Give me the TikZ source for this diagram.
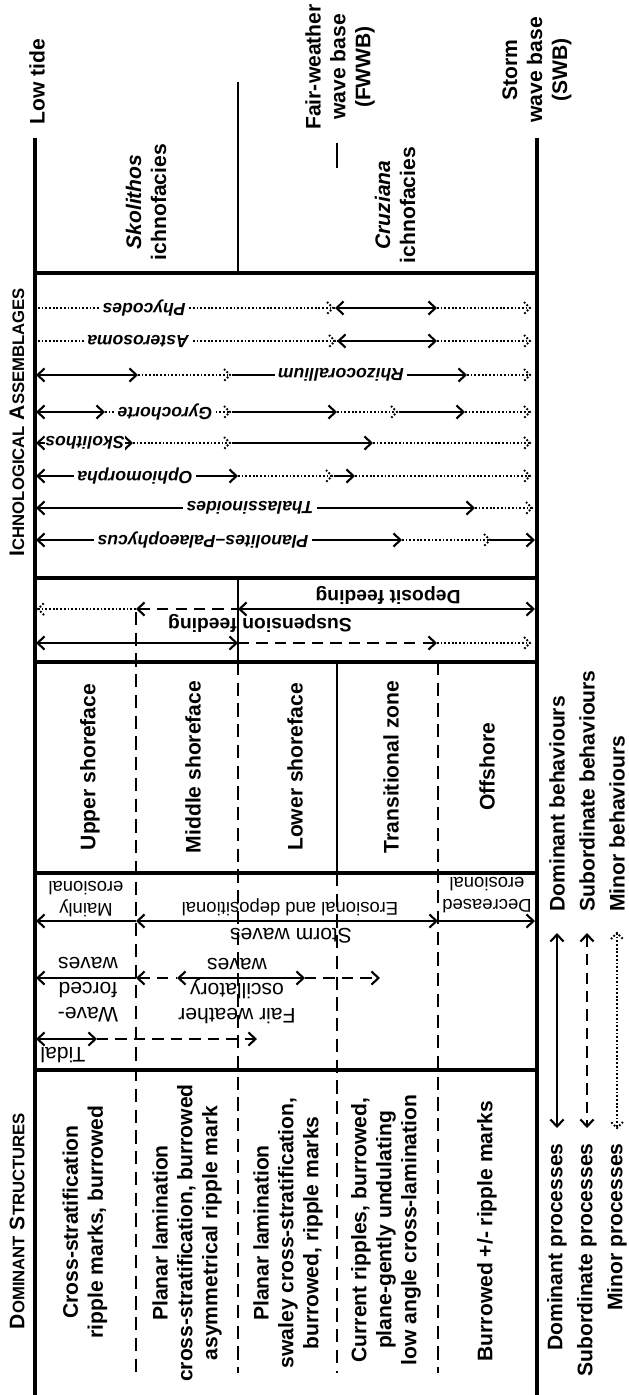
\documentclass[tikz,border=0pt]{standalone}
\usepackage{fontspec}
\setmainfont{Liberation Sans}
\usetikzlibrary{arrows.meta}
\newcommand{\hdcaps}[2]{{\fontsize{12}{14}\selectfont #1}{\fontsize{9.5}{14}\selectfont #2}}

\begin{document}
\begin{tikzpicture}[
                x=0.2mm,
                y=-0.2mm,
                >={Straight Barb[length=4pt,width=7.5pt]},
                frame/.style={line width=1.9pt},
                sep/.style={line width=1pt},
                sepdash/.style={line width=1pt, dash pattern=on 7.5pt off 4.3pt},
                dom/.style={line width=1.2pt},
                sub/.style={line width=1.2pt, dash pattern=on 6.5pt off 4pt},
                minor/.style={line width=1.1pt, dash pattern=on 1pt off 1.1pt},
                mtip/.pic={\draw[minor] (-6,-6) -- (0,0) -- (-6,6);},
                head/.style={font=\fontsize{12}{14.2}\selectfont\bfseries, align=center, inner sep=0pt},
                proc/.style={font=\fontsize{12}{14.2}\selectfont, align=center, inner sep=0pt},
                note/.style={font=\fontsize{10.5}{12.5}\selectfont, align=center, inner sep=0pt},
                feed/.style={font=\fontsize{11}{13}\selectfont\bfseries, inner sep=0pt},
                taxon/.style={font=\fontsize{10}{12}\selectfont\bfseries\itshape, fill=white,
                    inner xsep=2pt, inner ysep=1pt, rotate=180}]
            \fill[white] (0,0) rectangle (628,1395);
            \useasboundingbox (0,0) rectangle (628,1395);

            \draw[frame] (35,138) -- (35,1395);
            \draw[frame] (537,138) -- (537,1395);
            \foreach \yy in {273,578,662,873,1070}
                \draw[frame] (35,\yy) -- (537,\yy);
            \draw[sep] (238,82) -- (238,273);
            \draw[sep] (337,143) -- (337,168);
            \draw[sep] (238,578) -- (238,662);
            \draw[sep] (337,662) -- (337,873);
            \draw[sepdash] (136,612) -- (136,1373);
            \draw[sepdash] (238,662) -- (238,1373);
            \draw[sepdash] (337,873) -- (337,1373);
            \draw[sepdash] (438,662) -- (438,1373);

            \node[head, rotate=90] (lowtide) at (37,82)  {Low tide};
            \node[head, rotate=90] (skolfac) at (146,202) {\textit{Skolithos}\\ichnofacies};
            \node[head, rotate=90] (fwwb)    at (340,67)  {Fair-weather\\wave base\\(FWWB)};
            \node[head, rotate=90] (cruzfac) at (395,205) {\textit{Cruziana}\\ichnofacies};
            \node[head, rotate=90] (swb)     at (537,70)  {Storm\\wave base\\(SWB)};

            \node[head, rotate=90] (ichhead) at (17,422)
                {\hdcaps{I}{CHNOLOGICAL} \hdcaps{A}{SSEMBLAGES}};
            \node[head, rotate=90] (strhead) at (17,1221)
                {\hdcaps{D}{OMINANT} \hdcaps{S}{TRUCTURES}};

            \draw[minor] (38,308) -- (335,308);
            \pic at (333,308) {mtip};
            \draw[dom,<->] (335,308) -- (437,308);
            \draw[minor] (437,308) -- (530,308);
            \pic at (530,308) {mtip};
            \node[taxon] (phyc) at (144,308) {Phycodes};

            \draw[minor] (38,341) -- (337,341);
            \pic at (335,341) {mtip};
            \draw[dom,<->] (337,341) -- (437,341);
            \draw[minor] (437,341) -- (530,341);
            \pic at (530,341) {mtip};
            \node[taxon] (aster) at (138,341) {Asterosoma};

            \draw[dom,<->] (36,375) -- (138,375);
            \draw[minor] (138,375) -- (230,375);
            \pic at (230,375) {mtip};
            \draw[dom,->] (232,375) -- (467,375);
            \draw[minor] (467,375) -- (530,375);
            \pic at (530,375) {mtip};
            \node[taxon] (rhizo) at (341,375) {Rhizocorallium};

            \draw[dom,<->] (36,412) -- (105,412);
            \draw[minor] (105,412) -- (230,412);
            \pic at (230,412) {mtip};
            \draw[dom,->] (232,412) -- (337,412);
            \draw[minor] (337,412) -- (397,412);
            \pic at (397,412) {mtip};
            \draw[dom,->] (399,412) -- (465,412);
            \draw[minor] (465,412) -- (530,412);
            \pic at (530,412) {mtip};
            \node[taxon] (gyro) at (165,412) {Gyrochorte};

            \draw[dom,<->] (36,443) -- (133,443);
            \draw[minor] (133,443) -- (230,443);
            \pic at (230,443) {mtip};
            \draw[dom,->] (232,443) -- (373,443);
            \draw[minor] (373,443) -- (530,443);
            \pic at (530,443) {mtip};
            \node[taxon, inner xsep=0.5pt] (skol) at (85,443) {Skolithos};

            \draw[dom,<->] (36,476) -- (238,476);
            \draw[minor] (238,476) -- (332,476);
            \pic at (332,476) {mtip};
            \draw[dom,->] (334,476) -- (355,476);
            \draw[minor] (355,476) -- (530,476);
            \pic at (530,476) {mtip};
            \node[taxon] (ophio) at (135,476) {Ophiomorpha};

            \draw[dom,<->] (36,508) -- (475,508);
            \draw[minor] (475,508) -- (532,508);
            \pic at (532,508) {mtip};
            \node[taxon] (thala) at (250,508) {Thalassinoides};

            \draw[dom,<->] (36,540) -- (402,540);
            \draw[minor] (402,540) -- (490,540);
            \pic at (490,540) {mtip};
            \draw[dom,->] (490,540) -- (535,540);
            \node[taxon] (plano) at (203,540) {Planolites--Palaeophycus};

            \node[feed, rotate=180] (depfeed) at (388,595) {Deposit feeding};
            \draw[minor] (38,609) -- (136,609);
            \pic[rotate=180] at (38,609) {mtip};
            \draw[sub,<-] (136,609) -- (238,609);
            \draw[dom,<->] (238,609) -- (535,609);
            \node[feed, rotate=180] (susfeed) at (260,623) {Suspension feeding};
            \draw[dom,<->] (36,643) -- (238,643);
            \draw[sub,->] (238,643) -- (437,643);
            \draw[minor] (437,643) -- (530,643);
            \pic at (530,643) {mtip};

            \node[head, rotate=90] (upper)  at (90,767)  {Upper shoreface};
            \node[head, rotate=90] (middle) at (193,767) {Middle shoreface};
            \node[head, rotate=90] (lower)  at (295,767) {Lower shoreface};
            \node[head, rotate=90] (trans)  at (391,767) {Transitional zone};
            \node[head, rotate=90] (offsh)  at (487,767) {Offshore};

            \node[note, rotate=180] (mainly) at (86,899)  {Mainly\\erosional};
            \node[note, rotate=180] (erodep) at (290,907) {Erosional and depositional};
            \node[note, rotate=180] (decr)   at (487,895) {Decreased\\erosional};
            \draw[dom,<-] (36,921) -- (136,921);
            \draw[dom,<->] (136,921) -- (438,921);
            \draw[dom,->] (438,921) -- (535,921);
            \node[proc, rotate=180] (storm) at (291,936) {Storm waves};

            \node[proc, rotate=180] (wforced) at (88,990)  {Wave-\\forced\\waves};
            \node[proc, rotate=180] (fairw)   at (237,991) {Fair weather\\oscillatory\\waves};
            \draw[dom,<-] (36,978) -- (136,978);
            \draw[sub,<-] (136,978) -- (177,978);
            \draw[dom,<->] (177,978) -- (305,978);
            \draw[sub,->] (305,978) -- (380,978);

            \draw[dom,<->] (36,1039) -- (97,1039);
            \draw[sub,->] (97,1039) -- (257,1039);
            \node[proc, rotate=180] (tidal) at (63,1055) {Tidal};

            \node[head, rotate=90] (str1) at (85,1222)
                {Cross-stratification\\ripple marks, burrowed};
            \node[head, rotate=90] (str2) at (187,1233)
                {Planar lamination\\cross-stratification, burrowed\\asymmetrical ripple mark};
            \node[head, rotate=90] (str3) at (288,1233)
                {Planar lamination\\swaley cross-stratification,\\burrowed, ripple marks};
            \node[head, rotate=90] (str4) at (386,1230)
                {Current ripples, burrowed,\\plane-gently undulating\\low angle cross-lamination};
            \node[head, rotate=90] (str5) at (487,1231) {Burrowed +/- ripple marks};

            \draw[dom,<->] (557,933) -- (557,1128);
            \draw[sub,<->] (587,933) -- (587,1128);
            \draw[minor] (617,933) -- (617,1128);
            \pic[rotate=90] at (617,933) {mtip};
            \pic[rotate=-90] at (617,1128) {mtip};
            \node[head, rotate=90, anchor=west] (domb) at (557,912) {Dominant behaviours};
            \node[head, rotate=90, anchor=west] (subb) at (587,912) {Subordinate behaviours};
            \node[head, rotate=90, anchor=west] (minb) at (617,912) {Minor behaviours};
            \node[head, rotate=90, anchor=east] (domp) at (557,1143) {Dominant processes};
            \node[head, rotate=90, anchor=east] (subp) at (587,1143) {Subordinate processes};
            \node[head, rotate=90, anchor=east] (minp) at (617,1143) {Minor processes};
        \end{tikzpicture}
\end{document}
